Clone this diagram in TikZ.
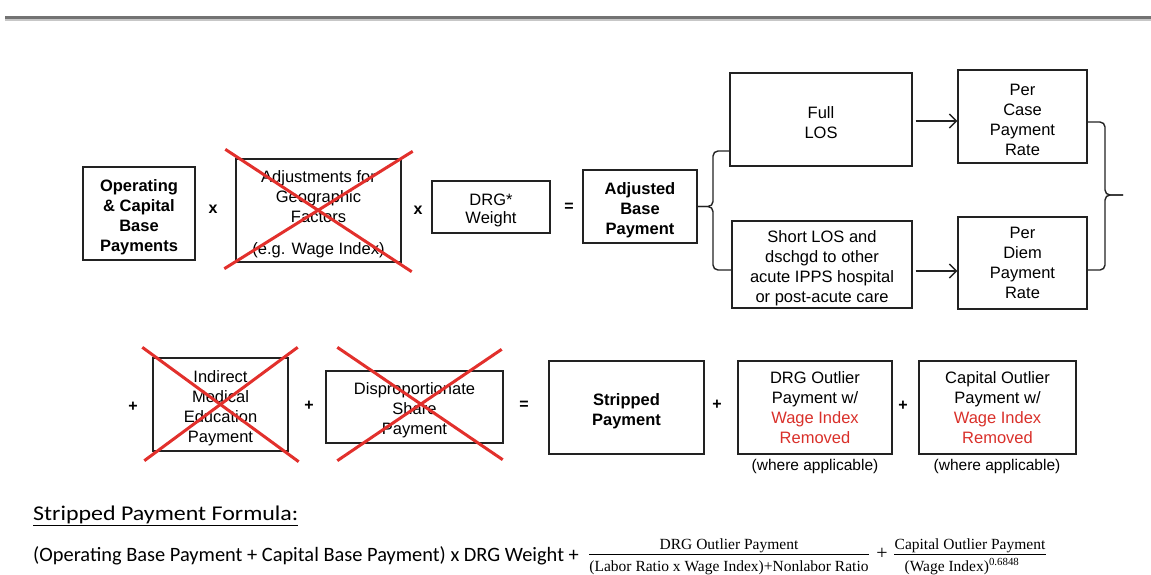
\documentclass[tikz,border=0pt]{standalone}
\usepackage{fontspec}
\setmainfont{Liberation Sans}
\newfontfamily\carl{Carlito}
\newfontfamily\serifx{Liberation Serif}
\usetikzlibrary{calc,arrows.meta}
\definecolor{boxline}{HTML}{222222}
\definecolor{xred}{HTML}{E2302C}
\definecolor{tred}{HTML}{D9302A}
\newcommand\tp{\rule{0pt}{18.5pt}}
\newcommand\tpp{\rule{0pt}{20pt}}
\begin{document}
\begin{tikzpicture}[x=1pt,y=-1pt,
  box/.style={draw=boxline, line width=1.4pt, inner sep=0pt, align=center,
    font=\fontsize{16.5}{20}\selectfont},
  bbox/.style={box, font=\bfseries\fontsize{16.5}{20}\selectfont},
  op/.style={font=\bfseries\fontsize{16}{18}\selectfont, inner sep=0pt},
  cross/.style={draw=xred, line width=3pt},
  conn/.style={draw=boxline, line width=1.4pt, rounded corners=5pt},
  arr/.style={draw=boxline, line width=1.4pt, -{Straight Barb[length=7pt,width=14pt,line width=1.4pt]}},
  note/.style={font=\fontsize{15.5}{18}\selectfont, inner sep=0pt},
  fr/.style={font=\serifx\fontsize{15.5}{18}\selectfont, inner sep=0pt, anchor=base},
]
\useasboundingbox (0,0) rectangle (1151,574);

% top rule
\coordinate (rl) at (5,17.5);
\coordinate (rr) at (1151,17.5);
\draw[line width=2.2pt, color=black!55] (rl) -- (rr);
\draw[line width=2.6pt, color=black!22] ($(rl)+(0,2.4)$) -- ($(rr)+(0,2.4)$);

% ---------- first row ----------
\node[bbox, minimum width=112pt, minimum height=93pt] (opb) at (139,213.5)
  {\tp Operating\\\& Capital\\Base\\Payments};
\node[op] (x1) at (213,209) {x};
\node[box, minimum width=165pt, minimum height=103pt] (geo) at (318.5,210.5)
  {\tp Adjustments for\\Geographic\\Factors\\[12pt](e.g. Wage Index)};
\node[op] (x2) at (418,210) {x};
\node[box, minimum width=118pt, minimum height=52pt, font=\fontsize{16.5}{18}\selectfont] (drg) at (491,207)
  {\tp DRG*\\Weight};
\node[op] (eq1) at (569,207) {=};
\node[bbox, minimum width=114pt, minimum height=73pt] (abp) at (640,206.5)
  {\tp Adjusted\\Base\\Payment};

\node[box, minimum width=182pt, minimum height=93pt] (full) at (821,119.5)
  {\tp Full\\LOS};
\node[box, minimum width=180pt, minimum height=87pt] (short) at (822,264.5)
  {\tpp Short LOS and\\dschgd to other\\acute IPPS hospital\\or post-acute care};
\node[box, minimum width=129pt, minimum height=93pt] (pcase) at (1022.5,116.5)
  {\tp Per\\Case\\Payment\\Rate};
\node[box, minimum width=129pt, minimum height=92pt] (pdiem) at (1022.5,263)
  {Per\\Diem\\Payment\\Rate};

% left brace
\coordinate (lb) at (713,206.5);
\draw[conn] (full.west |- 0,151) -- (lb |- 0,151) -- (lb) -- (abp.east);
\draw[conn] (short.west |- 0,270) -- (lb |- 0,270) -- (lb) -- (abp.east);

% arrows
\draw[arr] ($(full.east |- 0,121)+(3,0)$) -- (pcase.west |- 0,121);
\draw[arr] ($(short.east |- 0,271)+(3,0)$) -- (pdiem.west |- 0,271);

% right brace
\coordinate (rb) at (1105,195);
\coordinate (rbtip) at (1123,195);
\draw[conn] (pcase.east |- 0,122) -- (rb |- 0,122) -- (rb) -- (rbtip);
\draw[conn] (pdiem.east |- 0,270) -- (rb |- 0,270) -- (rb) -- (rbtip);

% crossed-out box
\draw[cross] ($(geo.north west)+(-10,-9)$) -- ($(geo.south east)+(10,9)$);
\draw[cross] ($(geo.south west)+(-11,6)$) -- ($(geo.north east)+(11,-7)$);

% ---------- second row ----------
\node[op] (p1) at (133,407) {+};
\node[box, minimum width=135pt, minimum height=93pt] (ime) at (220.5,404.5)
  {\tp Indirect\\Medical\\Education\\Payment};
\node[op] (p2) at (309,406) {+};
\node[box, minimum width=177pt, minimum height=72pt] (dsh) at (414.5,407)
  {\tp Disproportionate\\Share\\Payment};
\node[op] (eq2) at (524,405) {=};
\node[bbox, minimum width=155pt, minimum height=93pt] (strip) at (626.5,407.5)
  {\tp Stripped\\Payment};
\node[op] (p3) at (717,405) {+};
\node[box, minimum width=154pt, minimum height=93pt] (drgo) at (815,407.5)
  {DRG Outlier\\Payment w/\\\textcolor{tred}{Wage Index}\\\textcolor{tred}{Removed}};
\node[op] (p4) at (903,406) {+};
\node[box, minimum width=157pt, minimum height=93pt] (capo) at (997.5,407.5)
  {Capital Outlier\\Payment w/\\\textcolor{tred}{Wage Index}\\\textcolor{tred}{Removed}};
\node[note] (wa1) at (815,466) {(where applicable)};
\node[note] (wa2) at (997,466) {(where applicable)};

\draw[cross] ($(ime.north west)+(-10,-10)$) -- ($(ime.south east)+(10,10)$);
\draw[cross] ($(ime.south west)+(-8,9)$) -- ($(ime.north east)+(9,-10)$);
\draw[cross] ($(dsh.north west)+(12,-23)$) -- ($(dsh.south east)+(-1,16)$);
\draw[cross] ($(dsh.south west)+(12,17)$) -- ($(dsh.north east)+(-2,-21)$);

% ---------- formula ----------
\node[anchor=base west, inner sep=0pt, font=\carl\fontsize{21}{25}\selectfont] (title) at (33,520)
  {\scalebox{1.14}[1]{\underline{Stripped Payment Formula:}}};
\node[anchor=base west, inner sep=0pt, font=\carl\fontsize{20.4}{24}\selectfont] (f1) at (33,561)
  {(Operating Base Payment + Capital Base Payment) x DRG Weight +};
\node[fr] (num1) at (729,549) {DRG Outlier Payment};
\node[fr] (den1) at (729,571) {(Labor Ratio x Wage Index)+Nonlabor Ratio};
\draw[line width=1pt] (den1.west |- 0,554) -- (den1.east |- 0,554);
\node[inner sep=0pt, font=\serifx\fontsize{20}{24}\selectfont] (p5) at (882,554) {+};
\node[fr] (num2) at (970,549) {Capital Outlier Payment};
\node[fr] (den2) at (962,571) {(Wage Index)\textsuperscript{0.6848}};
\draw[line width=1pt] (num2.west |- 0,554) -- (num2.east |- 0,554);
\end{tikzpicture}
\end{document}
